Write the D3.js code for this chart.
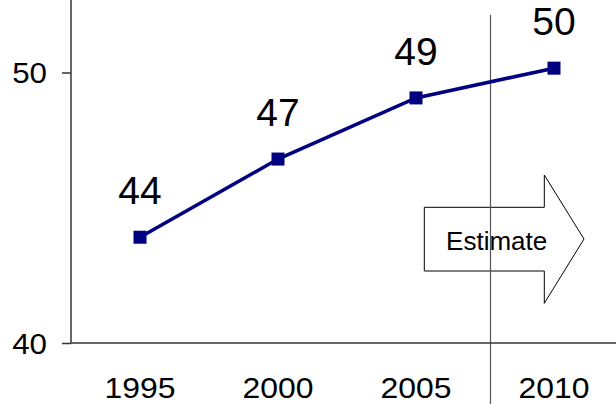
<!DOCTYPE html>
<html>
<head>
<meta charset="utf-8">
<script src="https://cdn.jsdelivr.net/npm/d3@7"></script>
<style>
  html, body { margin: 0; padding: 0; background: #fff; }
  svg { display: block; font-family: "Liberation Sans", Arial, sans-serif; }
</style>
</head>
<body>
<svg id="chart" width="616" height="404"></svg>
<script>
const years = ["1995", "2000", "2005", "2010"];
const values = [43.91, 46.8, 49.06, 50.16];
const valueLabels = ["44", "47", "49", "50"];
const yTicks = [40, 50];
const annotationText = "Estimate";

const W = 616, H = 404;
const svg = d3.select("#chart");

const x = d3.scalePoint().domain(years).range([140, 554]);
const y = d3.scaleLinear().domain([40, 50]).range([343, 72.5]);
const yTop = y.invert(0);

// Arrow annotation
const arrow = [[424.3, 207.3], [544.3, 207.3], [544.3, 175], [584, 239], [544.3, 303.3], [544.3, 271], [424.3, 271]];
svg.append("path")
  .attr("d", d3.line()(arrow) + "Z")
  .attr("fill", "#fff")
  .attr("stroke", "#000")
  .attr("stroke-width", 1);
svg.append("text")
  .attr("x", 496.7).attr("y", 250)
  .attr("text-anchor", "middle")
  .attr("font-size", 26)
  .attr("fill", "#000")
  .text(annotationText);

// Vertical separator
svg.append("line")
  .attr("x1", 490.5).attr("x2", 490.5)
  .attr("y1", 15).attr("y2", H)
  .attr("stroke", "#555").attr("stroke-width", 1.2);

// Y axis
const yAxis = d3.axisLeft(y).tickValues(yTicks).tickSize(9).tickPadding(15).tickFormat(d3.format("d"));
const gy = svg.append("g").attr("transform", "translate(71,0)").call(yAxis);
gy.select(".domain").attr("d", `M0,${y(yTop)}V${y(40)}`).attr("stroke", "#333").attr("stroke-width", 1.5);
gy.selectAll(".tick line").attr("stroke", "#333").attr("stroke-width", 1.5);
gy.selectAll(".tick text")
  .attr("font-size", 29).attr("fill", "#000")
  .attr("font-family", "'Liberation Sans', Arial, sans-serif")
  .attr("dy", "0.36em")
  .each(function() {
    const t = d3.select(this);
    const xx = +t.attr("x");
    t.attr("transform", `translate(${xx},0) scale(1.08,1) translate(${-xx},0)`);
  });

// X axis line
svg.append("line")
  .attr("x1", 71).attr("x2", W)
  .attr("y1", y(40)).attr("y2", y(40))
  .attr("stroke", "#333").attr("stroke-width", 1.5);

// X labels
svg.append("g").selectAll("text").data(years).join("text")
  .attr("text-anchor", "middle")
  .attr("font-size", 29)
  .attr("fill", "#000")
  .attr("transform", d => `translate(${x(d)},397.5) scale(1.1,1)`)
  .text(d => d);

// Series line
const pts = years.map((yr, i) => [x(yr), y(values[i])]);
svg.append("path")
  .attr("d", d3.line()(pts))
  .attr("fill", "none")
  .attr("stroke", "#000080")
  .attr("stroke-width", 3.5);

svg.append("g").selectAll("rect").data(pts).join("rect")
  .attr("x", d => d[0] - 6.5).attr("y", d => d[1] - 6.5)
  .attr("width", 13).attr("height", 13)
  .attr("fill", "#000080");

// Data labels
svg.append("g").selectAll("text").data(pts).join("text")
  .attr("x", d => d[0]).attr("y", d => d[1] - 33)
  .attr("text-anchor", "middle")
  .attr("font-size", 39)
  .attr("fill", "#000")
  .text((d, i) => valueLabels[i]);
</script>
</body>
</html>
